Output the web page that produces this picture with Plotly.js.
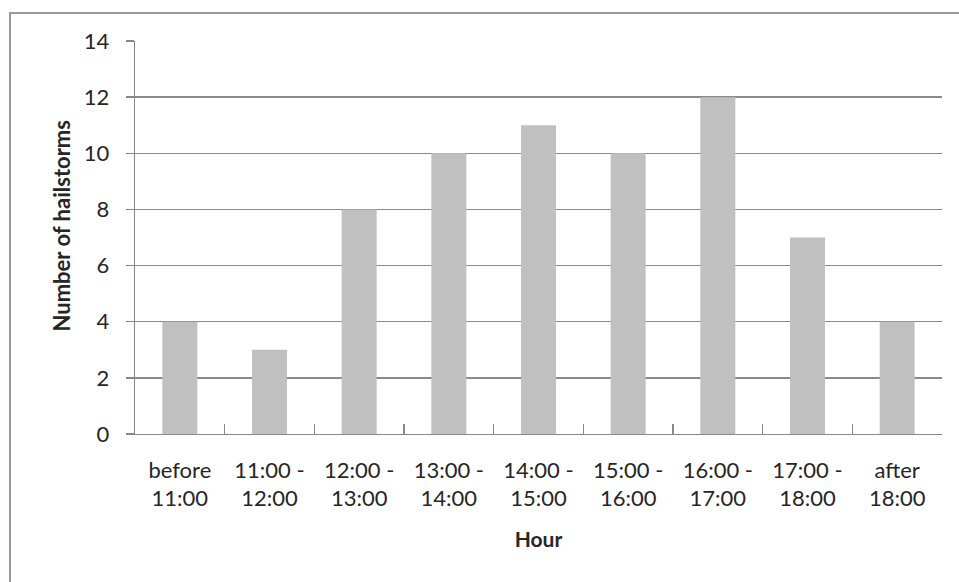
<!DOCTYPE html>
<html>
<head>
<meta charset="utf-8">
<script src="https://cdn.plot.ly/plotly-3.0.1.min.js"></script>
<style>
html, body { margin: 0; padding: 0; background: #ffffff; }
#chart { width: 959px; height: 582px; }
</style>
</head>
<body>
<div id="chart"></div>
<script>
var categories = ["before<br>11:00", "11:00 -<br>12:00", "12:00 -<br>13:00", "13:00 -<br>14:00", "14:00 -<br>15:00", "15:00 -<br>16:00", "16:00 -<br>17:00", "17:00 -<br>18:00", "after<br>18:00"];
var hailstorms = [4, 3, 8, 10, 11, 10, 12, 7, 4];
var yTicks = [0, 2, 4, 6, 8, 10, 12, 14];
var xTitle = "Hour";
var yTitle = "Number of hailstorms";

var fontFam = "Lato, 'Open Sans', sans-serif";

var trace = {
  type: "bar",
  x: categories,
  y: hailstorms,
  marker: { color: "#c0c0c0", line: { width: 0 } },
  hoverinfo: "x+y"
};

var layout = {
  width: 959,
  height: 582,
  margin: { l: 135, r: 17, t: 41, b: 148 },
  paper_bgcolor: "#ffffff",
  plot_bgcolor: "#ffffff",
  showlegend: false,
  bargap: 0.61,
  font: { family: fontFam, size: 22, color: "#262626" },
  xaxis: {
    type: "category",
    showline: true,
    linecolor: "#888888",
    linewidth: 1.3,
    ticks: "inside",
    tickson: "boundaries",
    ticklen: 10,
    tickcolor: "#888888",
    tickwidth: 1.3,
    showgrid: false,
    ticklabelstandoff: 16,
    tickfont: { family: fontFam, size: 22, color: "#262626" },
    title: { text: "<b>" + xTitle + "</b>", font: { family: fontFam, size: 21, color: "#262626" }, standoff: 22 }
  },
  yaxis: {
    range: [0, 14],
    tickvals: yTicks,
    showline: true,
    linecolor: "#888888",
    linewidth: 1.3,
    ticks: "outside",
    ticklen: 8,
    tickcolor: "#888888",
    tickwidth: 1.3,
    showgrid: true,
    gridcolor: "#8a8a8a",
    gridwidth: 1.3,
    zeroline: false,
    ticklabelstandoff: 12,
    tickfont: { family: fontFam, size: 22, color: "#262626" }
  },
  annotations: [{
    text: "<b>" + yTitle + "</b>",
    xref: "paper", yref: "paper",
    x: -0.0905, y: 0.5305,
    xanchor: "center", yanchor: "middle",
    textangle: -90,
    showarrow: false,
    font: { family: fontFam, size: 22, color: "#262626" }
  }],
  shapes: [{
    type: "rect",
    xref: "paper", yref: "paper",
    x0: -0.1549, x1: 1.2,
    y0: -0.6, y1: 1.0712,
    line: { color: "#9a9a9a", width: 2 },
    fillcolor: "rgba(0,0,0,0)",
    layer: "below"
  }]
};

Plotly.newPlot("chart", [trace], layout, { displayModeBar: false, staticPlot: true });
</script>
</body>
</html>
